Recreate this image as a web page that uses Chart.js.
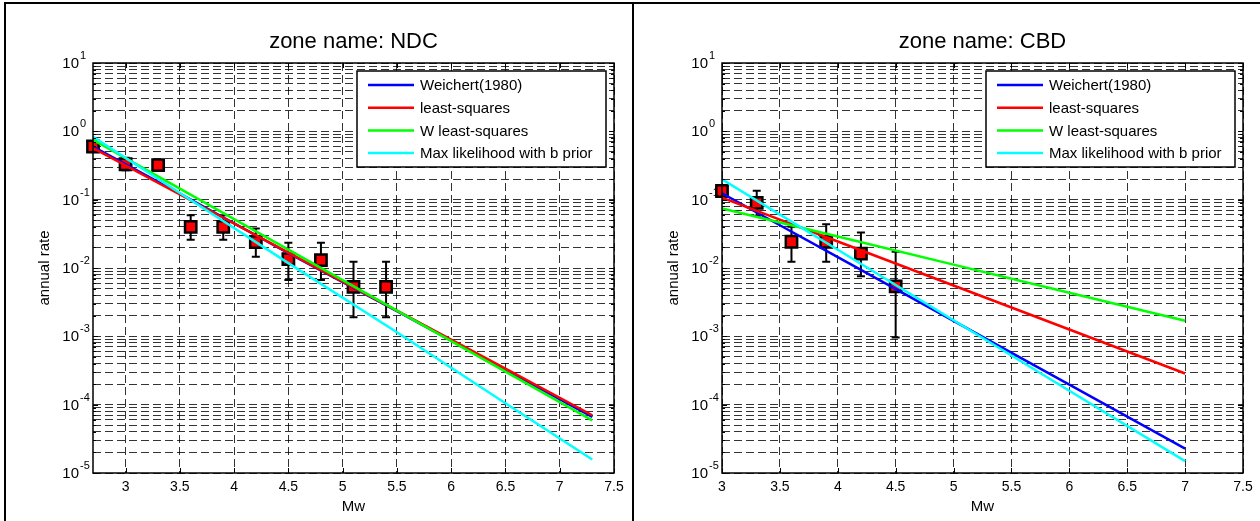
<!DOCTYPE html>
<html><head><meta charset="utf-8">
<script src="https://cdn.jsdelivr.net/npm/chart.js@4/dist/chart.umd.min.js"></script>
<style>
html,body{margin:0;padding:0;background:#fff;width:1260px;height:521px;overflow:hidden;}
canvas{position:absolute;top:0;}
#l{left:0;}
#r{left:632px;}
.b{position:absolute;background:#000;}
</style></head><body>
<canvas id="l" width="632" height="521"></canvas>
<canvas id="r" width="628" height="521"></canvas>
<div class="b" style="left:4px;top:2px;width:1256px;height:2px"></div>
<div class="b" style="left:4px;top:2px;width:2px;height:519px"></div>
<div class="b" style="left:632px;top:2px;width:2px;height:519px"></div>
<script>
const FONT = "'Liberation Sans', Arial, sans-serif";
const seriesNames = ['Weichert(1980)', 'least-squares', 'W least-squares', 'Max likelihood with b prior'];
const seriesColors = ['#0000ff', '#ff0000', '#00ff00', '#00ffff'];
const xTicks = [3, 3.5, 4, 4.5, 5, 5.5, 6, 6.5, 7, 7.5];
const yTickExps = [1, 0, -1, -2, -3, -4, -5];
const yMinorMult = [1, 2, 3, 4, 5, 6, 7, 8, 9];

// zone NDC
const ndcTitle = 'zone name: NDC';
const ndcMag  = [2.7, 3.0, 3.3, 3.6, 3.9, 4.2, 4.5, 4.8, 5.1, 5.4];
const ndcRate = [0.60, 0.33, 0.32, 0.040, 0.040, 0.024, 0.0135, 0.013, 0.0053, 0.0053];
const ndcLow  = [0.55, 0.27, 0.27, 0.026, 0.026, 0.0146, 0.0067, 0.0067, 0.0019, 0.0019];
const ndcHigh = [0.66, 0.41, 0.38, 0.059, 0.059, 0.038, 0.0234, 0.0234, 0.0123, 0.0123];
const ndcLineMag = [2.7, 3.5, 4.5, 5.5, 6.5, 7.3];
const ndcWeichert = [0.60, 0.123, 0.0165, 0.00234, 3.22e-4, 6.6e-5];
const ndcLSQ      = [0.57, 0.119, 0.0168, 0.00238, 3.36e-4, 7.0e-5];
const ndcWLSQ     = [0.75, 0.145, 0.0186, 0.00238, 3.05e-4, 5.9e-5];
const ndcMaxLik   = [0.83, 0.125, 0.0118, 0.00115, 1.05e-4, 1.58e-5];

// zone CBD
const cbdTitle = 'zone name: CBD';
const cbdMag  = [3.0, 3.3, 3.6, 3.9, 4.2, 4.5];
const cbdRate = [0.134, 0.090, 0.0242, 0.0242, 0.0162, 0.0054];
const cbdLow  = [0.115, 0.058, 0.0123, 0.0123, 0.0076, 0.00096];
const cbdHigh = [0.155, 0.135, 0.040, 0.0435, 0.033, 0.0173];
const cbdLineMag = [3.0, 3.5, 4.0, 5.0, 6.0, 7.0];
const cbdWeichert = [0.124, 0.0422, 0.0144, 1.68e-3, 1.96e-4, 2.28e-5];
const cbdLSQ      = [0.107, 0.0511, 0.0244, 5.55e-3, 1.26e-3, 2.86e-4];
const cbdWLSQ     = [0.0745, 0.0464, 0.0289, 0.0112, 4.35e-3, 1.69e-3];
const cbdMaxLik   = [0.198, 0.0604, 0.0185, 1.72e-3, 1.6e-4, 1.49e-5];

const yGrid = [];
yTickExps.slice().reverse().forEach(e => {
  yMinorMult.forEach(m => { const v = m * Math.pow(10, e); if (v <= 10.0001) yGrid.push(v); });
});

function panelPlugin(p) {
  return {
    id: 'panelExtras',
    beforeDatasetsDraw(chart) {
      const ctx = chart.ctx, xs = chart.scales.x, ys = chart.scales.y;
      ctx.save();
      ctx.strokeStyle = '#000';
      ctx.lineWidth = 2;
      p.mag.forEach((m, i) => {
        const x = xs.getPixelForValue(m);
        const y1 = ys.getPixelForValue(p.low[i]);
        const y2 = ys.getPixelForValue(p.high[i]);
        ctx.beginPath();
        ctx.moveTo(x, y1); ctx.lineTo(x, y2);
        ctx.moveTo(x - 4, y1); ctx.lineTo(x + 4, y1);
        ctx.moveTo(x - 4, y2); ctx.lineTo(x + 4, y2);
        ctx.stroke();
      });
      ctx.restore();
    },
    afterDraw(chart) {
      const ctx = chart.ctx, xs = chart.scales.x, ys = chart.scales.y;
      const A = chart.chartArea;
      ctx.save();
      // tick marks
      ctx.strokeStyle = '#000';
      ctx.lineWidth = 1;
      ctx.beginPath();
      xTicks.forEach(v => {
        const x = Math.round(xs.getPixelForValue(v)) + 0.5;
        ctx.moveTo(x, A.bottom); ctx.lineTo(x, A.bottom - 5);
        ctx.moveTo(x, A.top); ctx.lineTo(x, A.top + 5);
      });
      yGrid.forEach((v, i) => {
        const y = Math.round(ys.getPixelForValue(v)) + 0.5;
        const len = (i % 9 === 0) ? 5 : 3;
        ctx.moveTo(A.left, y); ctx.lineTo(A.left + len, y);
        ctx.moveTo(A.right, y); ctx.lineTo(A.right - len, y);
      });
      ctx.stroke();
      // axes box
      ctx.lineWidth = 1.5;
      ctx.strokeRect(A.left, A.top, A.right - A.left, A.bottom - A.top);
      // y tick labels 10^k
      ctx.fillStyle = '#000';
      yTickExps.forEach(e => {
        const y = ys.getPixelForValue(Math.pow(10, e));
        ctx.font = '15px ' + FONT;
        ctx.textAlign = 'right';
        ctx.textBaseline = 'middle';
        ctx.fillText('10', A.left - 14, y + 1);
        ctx.font = '11px ' + FONT;
        ctx.textAlign = 'left';
        ctx.fillText(String(e), A.left - 13, y - 7);
      });
      // legend
      const bw = 249, bh = 96;
      const bx = A.right - 8 - bw, by = A.top + 8;
      ctx.fillStyle = '#fff';
      ctx.fillRect(bx, by, bw, bh);
      ctx.strokeStyle = '#000';
      ctx.lineWidth = 1.5;
      ctx.strokeRect(bx, by, bw, bh);
      ctx.font = '15px ' + FONT;
      ctx.textAlign = 'left';
      ctx.textBaseline = 'middle';
      chart.data.datasets.slice(0, 4).forEach((ds, i) => {
        const y = by + 14 + i * 22.7;
        ctx.strokeStyle = ds.borderColor;
        ctx.lineWidth = 2.5;
        ctx.beginPath(); ctx.moveTo(bx + 11, y); ctx.lineTo(bx + 57, y); ctx.stroke();
        ctx.fillStyle = '#000';
        ctx.fillText(ds.label, bx + 63, y + 1);
      });
      ctx.restore();
    }
  };
}

function makePanel(id, p) {
  const lineSets = p.lines.map((vals, i) => ({
    label: seriesNames[i],
    data: p.lineMag.map((m, j) => ({ x: m, y: vals[j] })),
    borderColor: seriesColors[i], backgroundColor: seriesColors[i],
    borderWidth: 2.5, pointRadius: 0, pointHoverRadius: 0, showLine: true, fill: false,
    tension: 0, order: 3 - i
  }));
  const markers = {
    label: 'observed rates',
    data: p.mag.map((m, j) => ({ x: m, y: p.rate[j] })),
    showLine: false, pointStyle: 'rect', pointRadius: 8, pointHoverRadius: 8,
    backgroundColor: '#ff0000', borderColor: '#000', borderWidth: 2.5, order: 4, clip: false
  };
  const gridOpts = { color: 'rgba(0,0,0,0.8)', lineWidth: 1, drawTicks: false };
  return new Chart(document.getElementById(id), {
    type: 'scatter',
    data: { datasets: [...lineSets, markers] },
    options: {
      responsive: false, animation: false, devicePixelRatio: 1,
      layout: { padding: { left: 0, right: p.padRight, top: 0, bottom: 0 } },
      plugins: {
        legend: { display: false },
        tooltip: { enabled: false },
        title: { display: true, text: p.title, fullSize: false, color: '#000',
                 font: { family: FONT, size: 22, weight: 'normal' }, padding: { top: 29, bottom: 7.6 } }
      },
      scales: {
        x: {
          type: 'linear', min: p.xMin, max: 7.5,
          afterBuildTicks: s => { s.ticks = xTicks.map(v => ({ value: v })); },
          afterFit: s => { s.height = 48; },
          ticks: { autoSkip: false, maxRotation: 0, padding: 6, color: '#000',
                   font: { family: FONT, size: 14 }, callback: v => String(v) },
          grid: gridOpts,
          border: { display: false, dash: [8, 4] },
          title: { display: true, text: 'Mw', color: '#000', font: { family: FONT, size: 15 },
                   padding: { top: 0, bottom: 5 } }
        },
        y: {
          type: 'logarithmic', min: 1e-5, max: 10,
          afterBuildTicks: s => { s.ticks = yGrid.map(v => ({ value: v })); },
          afterFit: s => { s.width = p.yWidth; },
          ticks: { display: false },
          grid: gridOpts,
          border: { display: false, dash: [8, 4] },
          title: { display: true, text: 'annual rate', color: '#000', font: { family: FONT, size: 15 },
                   padding: { top: p.yTitlePad, bottom: 0 } }
        }
      }
    },
    plugins: [panelPlugin(p)]
  });
}

makePanel('l', {
  title: ndcTitle, mag: ndcMag, rate: ndcRate, low: ndcLow, high: ndcHigh,
  lineMag: ndcLineMag, lines: [ndcWeichert, ndcLSQ, ndcWLSQ, ndcMaxLik],
  xMin: 2.7, padRight: 18, yWidth: 93, yTitlePad: 36
});
makePanel('r', {
  title: cbdTitle, mag: cbdMag, rate: cbdRate, low: cbdLow, high: cbdHigh,
  lineMag: cbdLineMag, lines: [cbdWeichert, cbdLSQ, cbdWLSQ, cbdMaxLik],
  xMin: 3.0, padRight: 17, yWidth: 90, yTitlePad: 33
});
</script>
</body></html>
